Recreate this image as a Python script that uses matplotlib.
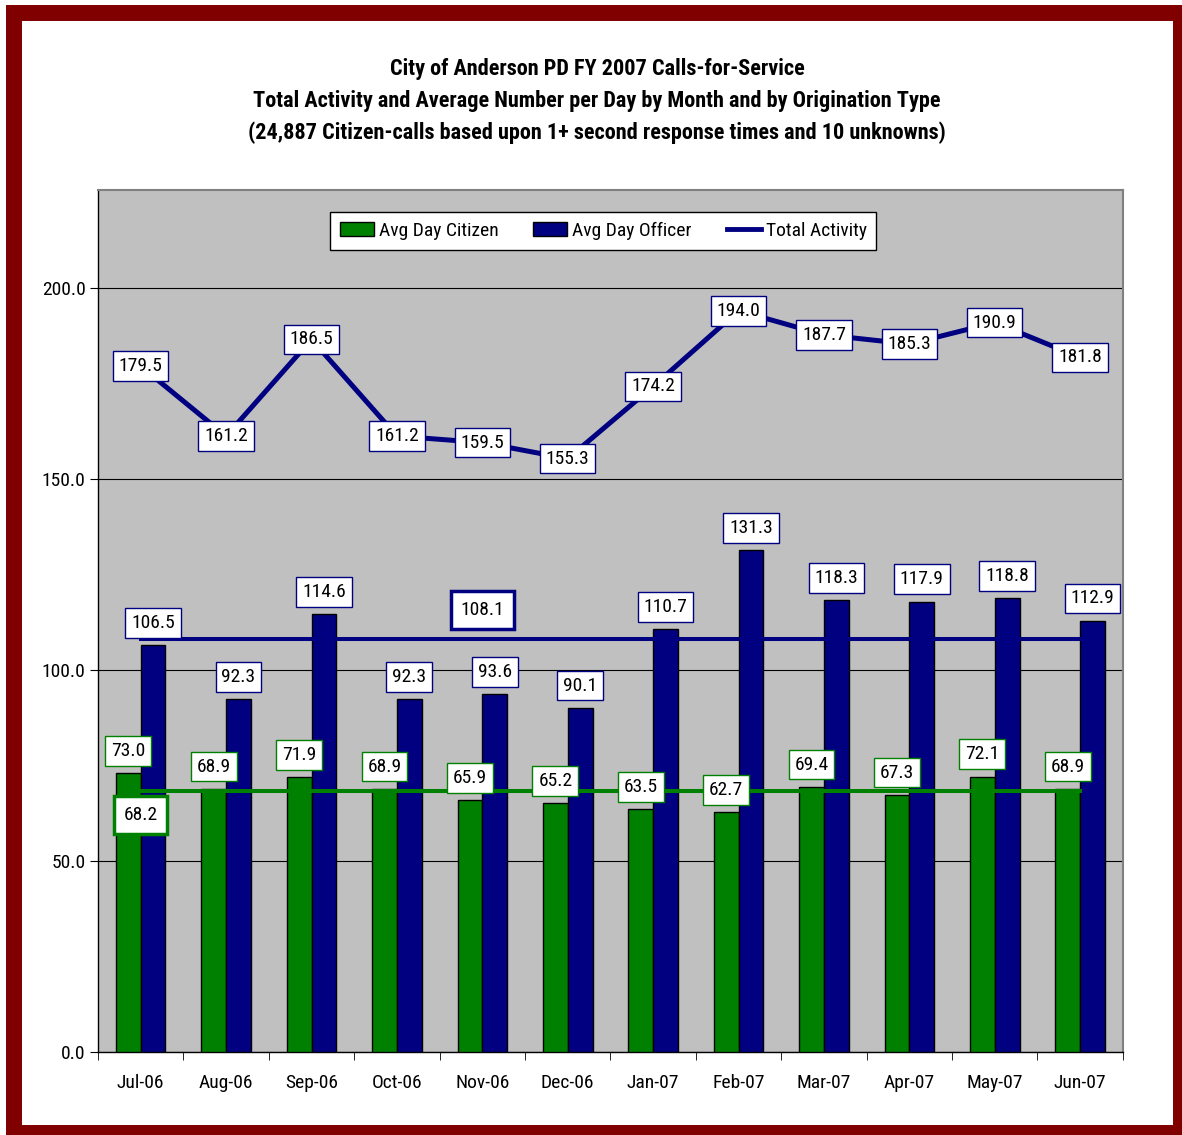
import matplotlib
matplotlib.use('Agg')
import matplotlib.pyplot as plt
import numpy as np
from matplotlib.patches import Patch, Rectangle
from matplotlib.lines import Line2D

plt.rcParams['font.family'] = ['Roboto Condensed', 'DejaVu Sans']

months = ['Jul-06', 'Aug-06', 'Sep-06', 'Oct-06', 'Nov-06', 'Dec-06',
          'Jan-07', 'Feb-07', 'Mar-07', 'Apr-07', 'May-07', 'Jun-07']
citizen = [73.0, 68.9, 71.9, 68.9, 65.9, 65.2, 63.5, 62.7, 69.4, 67.3, 72.1, 68.9]
officer = [106.5, 92.3, 114.6, 92.3, 93.6, 90.1, 110.7, 131.3, 118.3, 117.9, 118.8, 112.9]
total = [179.5, 161.2, 186.5, 161.2, 159.5, 155.3, 174.2, 194.0, 187.7, 185.3, 190.9, 181.8]
avg_citizen = 68.2
avg_officer = 108.1

GREEN = '#008000'
BLUE = '#000080'
DARKRED = '#800000'

fig = plt.figure(figsize=(11.82, 11.35), dpi=100)
ax = fig.add_axes([0.0829, 0.0731, 0.8671, 0.7595])
ax.set_facecolor('#C0C0C0')

x = np.arange(len(months))
w = 0.29

ax.bar(x - w / 2, citizen, w, color=GREEN, edgecolor='black', linewidth=1, zorder=3)
ax.bar(x + w / 2, officer, w, color=BLUE, edgecolor='black', linewidth=1, zorder=3)

# average lines
ax.plot([x[0], x[-1]], [avg_officer, avg_officer], color=BLUE, lw=2.9, zorder=4)
ax.plot([x[0], x[-1]], [avg_citizen, avg_citizen], color=GREEN, lw=2.9, zorder=4)

# total activity
ax.plot(x, total, color=BLUE, lw=3.6, zorder=5)

label_font = dict(fontsize=14, ha='center', va='center')

for xi, v in zip(x, citizen):
    ax.annotate(f'{v:.1f}', (xi - w / 2, v), xytext=(0, 16), textcoords='offset points', zorder=6,
                bbox=dict(boxstyle='square,pad=0.3', fc='white', ec=GREEN, lw=1), **label_font)

for xi, v in zip(x, officer):
    ax.annotate(f'{v:.1f}', (xi + w / 2, v), xytext=(0, 16), textcoords='offset points', zorder=6,
                bbox=dict(boxstyle='square,pad=0.3', fc='white', ec=BLUE, lw=1), **label_font)

for xi, v in zip(x, total):
    ax.annotate(f'{v:.1f}', (xi, v), zorder=7,
                bbox=dict(boxstyle='square,pad=0.3', fc='white', ec=BLUE, lw=1), **label_font)

ax.annotate(f'{avg_citizen:.1f}', (x[0], avg_citizen), xytext=(0, -17), textcoords='offset points', zorder=7,
            bbox=dict(boxstyle='square,pad=0.5', fc='white', ec=GREEN, lw=2.5), **label_font)
ax.annotate(f'{avg_officer:.1f}', (x[4], avg_officer), xytext=(0, 21), textcoords='offset points', zorder=7,
            bbox=dict(boxstyle='square,pad=0.5', fc='white', ec=BLUE, lw=2.5), **label_font)

ax.set_xlim(-0.5, len(months) - 0.5)
ax.set_ylim(0, 225.6)
ax.set_yticks([0, 50, 100, 150, 200])
ax.set_yticklabels([f'{t:.1f}' for t in [0, 50, 100, 150, 200]], fontsize=14)
ax.yaxis.grid(True, color='black', lw=0.8, zorder=1)
ax.set_axisbelow(True)

ax.set_xticks(x)
ax.set_xticklabels(months, fontsize=14)
ax.set_xticks(np.arange(-0.5, len(months)), minor=True)
ax.tick_params(axis='x', which='major', length=0, pad=16)
ax.tick_params(axis='x', which='minor', length=6, direction='out', color='black')
ax.tick_params(axis='y', length=6, direction='out', pad=3)

for side in ['top', 'right']:
    ax.spines[side].set_color('#808080')
    ax.spines[side].set_linewidth(1.5)
for side in ['left', 'bottom']:
    ax.spines[side].set_color('black')
    ax.spines[side].set_linewidth(1)

handles = [
    Patch(facecolor=GREEN, edgecolor='black', label='Avg Day Citizen'),
    Patch(facecolor=BLUE, edgecolor='black', label='Avg Day Officer'),
    Line2D([0], [0], color=BLUE, lw=3.5, label='Total Activity'),
]
leg = ax.legend(handles=handles, ncol=3, loc='upper center', bbox_to_anchor=(0.493, 0.9745),
                fontsize=14, frameon=True, fancybox=False, edgecolor='black', borderaxespad=0,
                handlelength=1.75, handletextpad=0.25, columnspacing=1.8, borderpad=0.5)
leg.get_frame().set_linewidth(1)
leg.get_frame().set_alpha(1)

fig.text(0.505, 0.911,
         'City of Anderson PD FY 2007 Calls-for-Service\n'
         'Total Activity and Average Number per Day by Month and by Origination Type\n'
         '(24,887 Citizen-calls based upon 1+ second response times and 10 unknowns)',
         ha='center', va='center', fontsize=16, fontweight='bold', linespacing=1.55)

# dark red frame
fig.patches.append(Rectangle((14 / 1182, 1 - 1133 / 1135), (1181 - 14) / 1182, (1133 - 13) / 1135,
                             transform=fig.transFigure, fill=False, ec=DARKRED, lw=11.5, zorder=10))

fig.savefig('out.png', dpi=100)
